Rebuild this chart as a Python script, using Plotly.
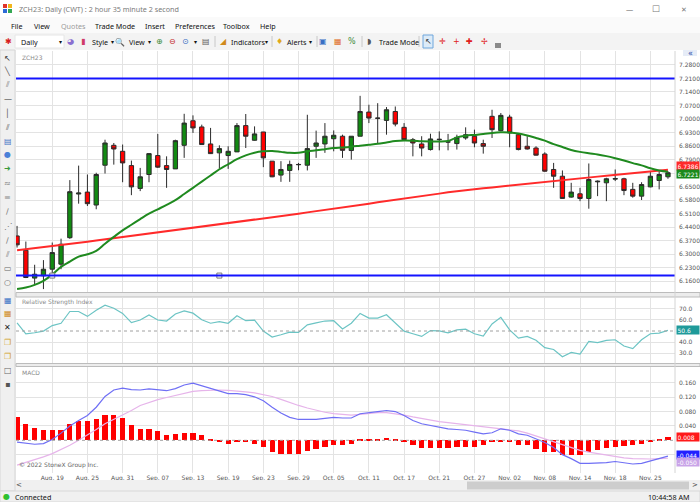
import pandas as pd
import plotly.graph_objects as go
from plotly.subplots import make_subplots

W, H = 700, 502
UI_FONT = "Noto Sans"
AX_FONT = "DejaVu Sans"

# trading days on screen: Aug 15 .. Nov 29 2022 (Labor Day / Thanksgiving closed)
holidays = ["2022-09-05", "2022-11-24"]
dates = [d for d in pd.bdate_range("2022-08-15", "2022-11-29")
         if d.strftime("%Y-%m-%d") not in holidays]

opens = [6.395, 6.321, 6.177, 6.189, 6.223, 6.249, 6.386, 6.612, 6.622, 6.555,
         6.761, 6.864, 6.833, 6.759, 6.641, 6.713, 6.811, 6.759, 6.742, 6.864,
         6.991, 6.959, 6.871, 6.825, 6.811, 6.830, 6.966, 6.890, 6.933, 6.782,
         6.710, 6.734, 6.765, 6.761, 6.859, 6.871, 6.898, 6.911, 6.837, 6.911,
         7.036, 7.005, 6.993, 7.039, 6.957, 6.893, 6.871, 6.842, 6.893, 6.882,
         6.873, 6.902, 6.911, 6.873, 7.014, 6.940, 7.010, 6.919, 6.859, 6.850,
         6.819, 6.739, 6.704, 6.596, 6.613, 6.589, 6.675, 6.670, 6.689, 6.691,
         6.636, 6.601, 6.649, 6.682, 6.701]
highs = [6.447, 6.366, 6.246, 6.270, 6.361, 6.381, 6.684, 6.759, 6.713, 6.722,
         6.893, 6.876, 6.868, 6.785, 6.747, 6.823, 6.923, 6.807, 6.893, 7.027,
         7.019, 6.971, 6.954, 6.864, 6.859, 6.979, 7.026, 6.962, 6.933, 6.782,
         6.782, 6.785, 6.773, 7.022, 6.940, 6.979, 6.941, 6.919, 6.911, 7.120,
         7.074, 7.082, 7.062, 7.065, 6.979, 6.902, 6.911, 6.924, 6.936, 6.923,
         6.919, 6.957, 6.945, 6.893, 7.048, 7.031, 7.022, 6.923, 6.911, 6.859,
         6.828, 6.773, 6.734, 6.670, 6.644, 6.770, 6.682, 6.696, 6.739, 6.696,
         6.670, 6.673, 6.730, 6.730, 6.730]
lows = [6.335, 6.177, 6.146, 6.120, 6.189, 6.223, 6.380, 6.562, 6.550, 6.533,
        6.718, 6.764, 6.673, 6.606, 6.627, 6.673, 6.747, 6.644, 6.742, 6.799,
        6.928, 6.868, 6.819, 6.744, 6.742, 6.830, 6.850, 6.888, 6.751, 6.699,
        6.675, 6.675, 6.735, 6.734, 6.799, 6.825, 6.833, 6.799, 6.790, 6.911,
        6.979, 6.871, 6.919, 6.962, 6.888, 6.807, 6.807, 6.837, 6.838, 6.838,
        6.842, 6.893, 6.854, 6.821, 6.902, 6.936, 6.854, 6.838, 6.842, 6.811,
        6.727, 6.644, 6.589, 6.593, 6.575, 6.536, 6.601, 6.575, 6.679, 6.606,
        6.593, 6.581, 6.647, 6.636, 6.691]
closes = [6.349, 6.180, 6.197, 6.223, 6.309, 6.352, 6.624, 6.617, 6.562, 6.713,
          6.876, 6.845, 6.773, 6.649, 6.701, 6.821, 6.751, 6.739, 6.888, 6.979,
          6.954, 6.868, 6.821, 6.847, 6.833, 6.966, 6.911, 6.923, 6.799, 6.701,
          6.739, 6.765, 6.764, 6.847, 6.876, 6.911, 6.916, 6.838, 6.911, 7.039,
          7.005, 7.004, 7.048, 6.974, 6.893, 6.876, 6.850, 6.897, 6.895, 6.881,
          6.905, 6.919, 6.876, 6.859, 6.945, 7.019, 6.928, 6.842, 6.845, 6.813,
          6.730, 6.704, 6.589, 6.622, 6.589, 6.687, 6.678, 6.691, 6.692, 6.630,
          6.601, 6.661, 6.704, 6.713, 6.7221]

# moving averages as drawn by the platform
ma_green = [6.120, 6.128, 6.142, 6.163, 6.195, 6.235, 6.262, 6.288, 6.300, 6.318,
            6.355, 6.390, 6.424, 6.453, 6.482, 6.510, 6.533, 6.556, 6.580, 6.612,
            6.644, 6.676, 6.708, 6.740, 6.766, 6.792, 6.812, 6.826, 6.833, 6.835,
            6.830, 6.825, 6.825, 6.833, 6.838, 6.844, 6.850, 6.853, 6.857, 6.862,
            6.867, 6.872, 6.879, 6.886, 6.889, 6.888, 6.885, 6.884, 6.884, 6.887,
            6.905, 6.914, 6.918, 6.922, 6.928, 6.931, 6.930, 6.925, 6.915, 6.902,
            6.888, 6.870, 6.855, 6.840, 6.830, 6.823, 6.817, 6.808, 6.797, 6.785,
            6.772, 6.760, 6.745, 6.734, 6.727]
ma_red = [6.321, 6.326, 6.331, 6.337, 6.342, 6.348, 6.354, 6.360, 6.365, 6.371,
          6.377, 6.382, 6.388, 6.394, 6.400, 6.406, 6.412, 6.418, 6.424, 6.430,
          6.436, 6.442, 6.448, 6.453, 6.459, 6.465, 6.471, 6.478, 6.484, 6.491,
          6.497, 6.504, 6.510, 6.517, 6.523, 6.530, 6.536, 6.543, 6.549, 6.556,
          6.562, 6.569, 6.575, 6.582, 6.588, 6.595, 6.601, 6.608, 6.614, 6.621,
          6.627, 6.632, 6.637, 6.642, 6.646, 6.651, 6.656, 6.660, 6.665, 6.670,
          6.675, 6.679, 6.684, 6.688, 6.693, 6.697, 6.702, 6.706, 6.711, 6.715,
          6.720, 6.724, 6.729, 6.733, 6.738]
level_lines = [7.21, 6.19]
level_handles = [4, 23]  # anchor points of the lower drawn line

rsi = [57.3, 47.5, 48.4, 49.9, 54.9, 57.0, 67.6, 67.6, 63.2, 68.8,
       73.3, 70.6, 65.9, 57.6, 59.9, 64.4, 59.9, 59.0, 65.3, 68.2,
       66.1, 60.2, 57.0, 58.4, 57.0, 63.8, 59.3, 59.9, 49.9, 44.5,
       46.6, 49.0, 48.7, 55.5, 57.3, 59.0, 59.3, 51.9, 57.0, 65.9,
       61.7, 61.7, 64.7, 57.0, 49.9, 47.5, 45.1, 50.4, 50.1, 48.4,
       51.0, 51.6, 47.5, 45.4, 56.4, 62.3, 51.0, 43.6, 45.1, 41.6,
       35.0, 33.3, 26.7, 30.6, 29.1, 40.7, 39.5, 41.6, 42.1, 36.5,
       34.1, 42.1, 47.5, 48.1, 50.6]

macd = [-0.005, -0.009, -0.011, -0.009, 0.002, 0.020, 0.040, 0.055, 0.069, 0.092,
        0.122, 0.140, 0.145, 0.141, 0.140, 0.143, 0.140, 0.138, 0.144, 0.154,
        0.159, 0.152, 0.143, 0.136, 0.130, 0.130, 0.127, 0.121, 0.110, 0.092,
        0.076, 0.064, 0.058, 0.058, 0.058, 0.061, 0.064, 0.062, 0.062, 0.074,
        0.078, 0.080, 0.083, 0.080, 0.069, 0.055, 0.046, 0.041, 0.037, 0.032,
        0.030, 0.028, 0.023, 0.018, 0.021, 0.032, 0.028, 0.018, 0.014, 0.005,
        -0.006, -0.020, -0.040, -0.051, -0.064, -0.064, -0.064, -0.062, -0.059, -0.062,
        -0.066, -0.064, -0.058, -0.051, -0.044]
signal = [-0.069, -0.062, -0.055, -0.046, -0.037, -0.026, -0.014, 0.000, 0.014, 0.030,
          0.046, 0.058, 0.069, 0.083, 0.097, 0.106, 0.113, 0.119, 0.125, 0.131,
          0.136, 0.138, 0.140, 0.140, 0.139, 0.138, 0.135, 0.132, 0.128, 0.122,
          0.114, 0.105, 0.097, 0.090, 0.083, 0.078, 0.074, 0.071, 0.070, 0.072,
          0.075, 0.077, 0.077, 0.074, 0.070, 0.065, 0.060, 0.055, 0.052, 0.049,
          0.046, 0.043, 0.040, 0.037, 0.034, 0.032, 0.030, 0.026, 0.020, 0.012,
          0.004, -0.005, -0.013, -0.020, -0.028, -0.033, -0.037, -0.041, -0.046, -0.049,
          -0.051, -0.052, -0.052, -0.051, -0.050]
hist = [0.064, 0.046, 0.035, 0.028, 0.029, 0.030, 0.046, 0.055, 0.053, 0.058,
        0.071, 0.071, 0.0625, 0.043, 0.032, 0.032, 0.025, 0.016, 0.0165, 0.021,
        0.021, 0.014, 0.005, -0.002, -0.009, -0.005, -0.005, -0.009, -0.020, -0.032,
        -0.037, -0.037, -0.037, -0.030, -0.023, -0.018, -0.012, -0.014, -0.009, 0.001,
        0.002, 0.003, 0.006, 0.003, -0.004, -0.014, -0.021, -0.021, -0.021, -0.021,
        -0.018, -0.018, -0.018, -0.014, -0.005, -0.003, -0.005, -0.012, -0.014, -0.025,
        -0.032, -0.032, -0.041, -0.041, -0.041, -0.032, -0.028, -0.021, -0.018, -0.016,
        -0.014, -0.009, -0.002, 0.002, 0.008]

price_ticks = [6.16, 6.23, 6.30, 6.37, 6.44, 6.51, 6.58, 6.65, 6.72, 6.79,
               6.86, 6.93, 7.00, 7.07, 7.14, 7.21, 7.28]
rsi_ticks = [30, 40, 60, 70]
macd_ticks = [0.16, 0.12, 0.08, 0.04, -0.04]

xs = list(range(len(dates)))
date_ticks = xs[4::4]
date_labels = [dates[i].strftime("%b. %d") for i in date_ticks]
month_starts = [i for i in xs[1:] if dates[i].month != dates[i - 1].month]


def px(x):
    return x / W


def py(y):
    return 1 - y / H


fig = make_subplots(rows=3, cols=1, shared_xaxes=True, vertical_spacing=0.02)

fig.add_trace(go.Candlestick(
    x=xs, open=opens, high=highs, low=lows, close=closes,
    increasing=dict(line=dict(color="#2b2b2b", width=1), fillcolor="#128a12"),
    decreasing=dict(line=dict(color="#2b2b2b", width=1), fillcolor="#ff0000"),
    whiskerwidth=0, hoverinfo="skip"), row=1, col=1)
fig.add_trace(go.Scatter(x=xs, y=ma_red, mode="lines", line=dict(color="#ff2a2a", width=2),
                         hoverinfo="skip"), row=1, col=1)
fig.add_trace(go.Scatter(x=xs, y=ma_green, mode="lines", line=dict(color="#1f8a1f", width=2, shape="spline"),
                         hoverinfo="skip"), row=1, col=1)
for lv in level_lines:
    fig.add_hline(y=lv, line=dict(color="#1414ff", width=2), row=1, col=1)
fig.add_trace(go.Scatter(x=level_handles, y=[level_lines[1]] * len(level_handles), mode="markers",
                         marker=dict(symbol="square", size=5, color="white", line=dict(color="#777", width=1)),
                         hoverinfo="skip"), row=1, col=1)

fig.add_trace(go.Scatter(x=xs, y=rsi, mode="lines", line=dict(color="#6cc4c4", width=1.2),
                         hoverinfo="skip"), row=2, col=1)
fig.add_hline(y=50, line=dict(color="#a0a0a0", width=1, dash="dot"), row=2, col=1)

fig.add_trace(go.Bar(x=xs, y=hist, marker=dict(color="#ff0000", line=dict(width=0)), width=0.6,
                     hoverinfo="skip"), row=3, col=1)
fig.add_hline(y=0, line=dict(color="#a0a0a0", width=1, dash="dot"), row=3, col=1)
fig.add_trace(go.Scatter(x=xs, y=signal, mode="lines", line=dict(color="#e6b4ea", width=1.2),
                         hoverinfo="skip"), row=3, col=1)
fig.add_trace(go.Scatter(x=xs, y=macd, mode="lines", line=dict(color="#6f6ff5", width=1.2),
                         hoverinfo="skip"), row=3, col=1)

for m in month_starts:
    fig.add_vline(x=m, line=dict(color="#c4c4c4", width=1.5), layer="below", row="all", col=1)

grid = "#e3e3e3"
xcommon = dict(range=[-0.12, 74.8], domain=[px(16), px(675)], tickvals=date_ticks, ticktext=date_labels,
               showgrid=True, gridcolor=grid, zeroline=False, showline=False, ticks="", ticklen=0,
               rangeslider=dict(visible=False), tickfont=dict(family=AX_FONT, size=6, color="#555"))
fig.update_layout(
    xaxis={**xcommon, "showticklabels": False},
    xaxis2={**xcommon, "showticklabels": False},
    xaxis3={**xcommon, "showticklabels": True},
    yaxis=dict(domain=[py(292), py(51)], range=[6.105, 7.352], side="right",
               tickvals=price_ticks, ticktext=[f"{v:.4f}" for v in price_ticks]),
    yaxis2=dict(domain=[py(363), py(298)], range=[21.1, 79.8], side="right",
                tickvals=rsi_ticks, ticktext=[f"{v:.1f}" for v in rsi_ticks]),
    yaxis3=dict(domain=[py(473), py(367)], range=[-0.091, 0.204], side="right",
                tickvals=macd_ticks, ticktext=[f"{v:.3f}" if v > 0 else "" for v in macd_ticks]),
)
fig.update_yaxes(showgrid=True, gridcolor=grid, zeroline=False, showline=False, ticks="", ticklen=0,
                 ticklabelstandoff=3, tickfont=dict(family=AX_FONT, size=6, color="#555"))

# ---- window chrome -------------------------------------------------------
shapes = []


def box(x0, y0, x1, y1, fill, line=None, layer="above"):
    shapes.append(dict(type="rect", xref="paper", yref="paper", x0=px(x0), x1=px(x1),
                       y0=py(y1), y1=py(y0), fillcolor=fill, layer=layer,
                       line=dict(color=line or fill, width=1 if line else 0)))


notes = []


def label(x, y, text, size=7.2, color="#111", anchor="left", family=UI_FONT, **kw):
    notes.append(dict(xref="paper", yref="paper", x=px(x), y=py(y), text=text, showarrow=False,
                      xanchor=anchor, yanchor="middle", font=dict(size=size, color=color, family=family), **kw))


box(16, 50, 700, 480, "white", layer="below")
box(0, 0, 700, 17, "white")
box(0, 17, 700, 33, "#fafafa")
box(0, 33, 700, 50, "#f3f3f3")
box(0, 50, 15, 491, "#f0f0f0", "#d6d6d6")
box(16, 292.5, 700, 297, "#ececec", "#bcbcbc")
box(16, 363.5, 700, 366.5, "#ececec", "#bcbcbc")
box(16, 480, 700, 491, "#f0f0f0")
box(467, 481.5, 689, 489.5, "#cdcdcd")
box(0, 491, 700, 502, "#f0f0f0", "#d8d8d8")
shapes.append(dict(type="line", xref="paper", yref="paper", x0=px(675), x1=px(675),
                   y0=py(473), y1=py(51), line=dict(color="#d4d4d4", width=1)))
box(15, 35, 64, 48, "white", "#e6e6e6")
box(423, 35, 433, 48, "#dcebf8", "#6fa6dc")
box(3, 4, 7, 8, "#e0342a")
box(8, 4, 12, 8, "#f2b51c")
box(3, 9, 7, 13, "#2c6bd6")
box(8, 9, 12, 13, "#34a853")
box(495, 43, 501, 48, "#8a8a8a")
box(683, 50, 697, 56, "#e6ecf7")

label(17, 9, "ZCH23: Daily (CWT) : 2 hour 35 minute 2 second", color="#7a7a7a")
label(629, 9, "—", color="#777", anchor="center")
label(656, 9, "☐", color="#777", anchor="center", size=9)
label(684, 9, "✕", color="#777", anchor="center")

for x, t in [(9, "File"), (32, "View"), (93, "Trade Mode"), (143, "Insert"),
             (173, "Preferences"), (221, "Toolbox"), (258, "Help")]:
    label(x, 26, t)
label(59, 26, "Quotes", color="#9a9a9a")

for x, t in [(19, "Daily"), (90, "Style"), (127, "View"), (229, "Indicators"), (285, "Alerts"), (377, "Trade Mode")]:
    label(x, 41.5, t)
for x in [60, 112, 149, 195, 266, 310]:
    label(x, 41.5, "▾", size=6, anchor="center")
for x, t, c in [(8, "✱", "#d81e1e"), (70, "◕", "#8a6fd0"), (83, "▮", "#d03a6a"), (120, "🔍", "#3a6fc4"),
                (159, "⊕", "#3a8a3a"), (172, "⊖", "#c42a2a"), (185, "⊙", "#3a6fc4"), (206, "▤", "#555"),
                (223, "◢", "#d08a1a"), (279, "♦", "#e0a81a"), (323, "▣", "#3a6fc4"), (338, "▦", "#e06a1a"),
                (352, "%", "#3a8a3a"), (369, "◗", "#555"), (428, "↖", "#333"), (442, "✛", "#e02020"),
                (456, "+", "#e02020"), (470, "✚", "#e02020"), (484, "✢", "#e02020")]:
    label(x, 41.5, t, color=c, anchor="center", size=8, family="DejaVu Sans")
for x in [215, 272, 317, 362, 419]:
    shapes.append(dict(type="line", xref="paper", yref="paper", x0=px(x), x1=px(x),
                       y0=py(47), y1=py(36), line=dict(color="#c8c8c8", width=1)))

tool_icons = [(58, "↖", "#333"), (71, "╲", "#555"), (85, "⫽", "#777"), (99, "—", "#555"),
              (113, "│", "#555"), (127, "⫽", "#555"), (141, "▤", "#3a6fc4"), (155, "●", "#4a80d8"),
              (169, "➜", "#3a9a3a"), (183, "≈", "#777"), (197, "≡", "#888"), (211, "∕", "#777"),
              (226, "⋰", "#777"), (240, "∕", "#777"), (254, "⫽", "#777"), (268, "▭", "#666"),
              (282, "○", "#666"), (300, "▦", "#3a6fc4"), (313, "▦", "#d08a1a"), (327, "✕", "#222"),
              (342, "❐", "#d0a01a"), (356, "❐", "#d0a01a"), (370, "□", "#666"), (384, "▪", "#555")]
for y, t, c in tool_icons:
    label(7.5, y, t, color=c, anchor="center", size=8, family="DejaVu Sans")

label(20, 57, "ZCH23", size=6, color="#8a8a8a", family=AX_FONT)
label(20, 302, "Relative Strength Index", size=6, color="#8a8a8a", family=AX_FONT)
label(20, 372, "MACD", size=6, color="#8a8a8a", family=AX_FONT)
label(17, 465, "© 2022 StoneX Group Inc.", size=6, color="#666", family=AX_FONT)
label(690, 53, "«", size=8, color="#2a4aa8", anchor="center", family="DejaVu Sans")
label(19, 484.5, "<", size=7, color="#444", anchor="center", family="DejaVu Sans")
label(695, 484.5, ">", size=7, color="#444", anchor="center", family="DejaVu Sans")
label(6, 496.5, "●", size=8, color="#2ec02e", anchor="center", family="DejaVu Sans")
label(13, 496.5, "Connected")
label(692, 496.5, "10:44:58 AM", anchor="right")


# value flags on the right axis
def flag(yref, val, text, bg, shift=0):
    notes.append(dict(xref="paper", yref=yref, x=px(676), y=val, text=text, showarrow=False,
                      xanchor="left", yanchor="middle", yshift=shift, bgcolor=bg, borderpad=0.5,
                      width=21, align="left", font=dict(size=6, color="white", family=AX_FONT)))


flag("y", ma_red[-1], f"{ma_red[-1] + 0.0006:.4f}", "#ff2a2a", shift=4)
flag("y", closes[-1], f"{closes[-1]:.4f}", "#1a8a1a", shift=-1)
flag("y2", rsi[-1], f"{rsi[-1]:.1f}", "#1f9a9a")
flag("y3", hist[-1], f"{hist[-1]:.3f}", "#ff1a1a")
flag("y3", macd[-1], f"{macd[-1]:.3f}", "#2020ff", shift=1)
flag("y3", signal[-1], f"{signal[-1]:.3f}", "#c9a4e8", shift=-4)

fig.update_layout(shapes=list(fig.layout.shapes) + shapes, annotations=notes)
fig.update_layout(width=W, height=H, autosize=False, margin=dict(l=0, r=0, t=0, b=0),
                  paper_bgcolor="#f0f0f0", plot_bgcolor="white", showlegend=False,
                  bargap=0, hovermode=False)
# the page body carries a default 8px margin; drop it so the figure fills the window
fig.write_html("out.html", config={"displayModeBar": False},
               post_script="document.body.style.margin='0';document.body.style.overflow='hidden';")
